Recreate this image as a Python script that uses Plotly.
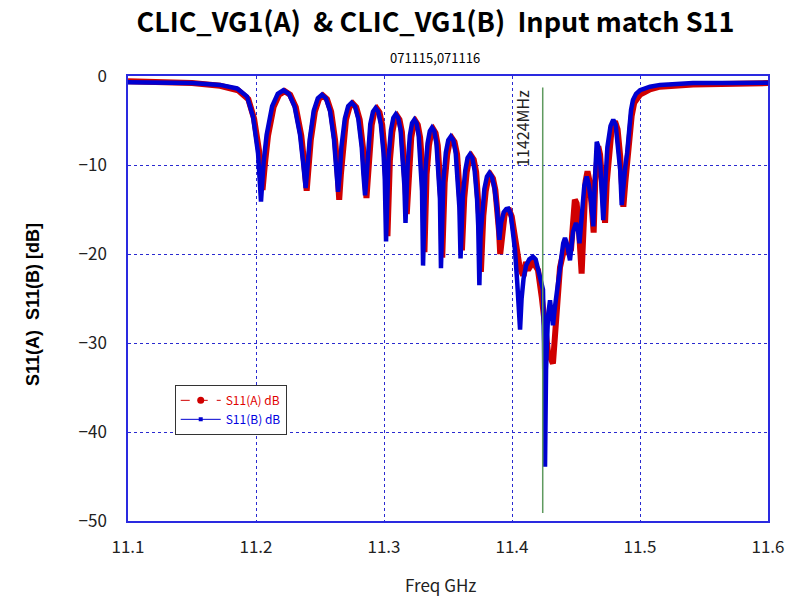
import plotly.graph_objects as go

# ---- data ----
freq_b = [
    11.1000, 11.1250, 11.1500, 11.1719, 11.1852, 11.1930, 11.1977, 11.2016, 11.2039,
    11.2060, 11.2083, 11.2126, 11.2170, 11.2214, 11.2257, 11.2301, 11.2344, 11.2367, 11.2388,
    11.2403, 11.2420, 11.2451, 11.2483, 11.2515, 11.2546, 11.2578, 11.2609, 11.2625, 11.2641,
    11.2654, 11.2667, 11.2694, 11.2720, 11.2747, 11.2773, 11.2799, 11.2826, 11.2839, 11.2852,
    11.2862, 11.2873, 11.2893, 11.2914, 11.2934, 11.2955, 11.2975, 11.2996, 11.3006, 11.3016,
    11.3025, 11.3035, 11.3054, 11.3073, 11.3092, 11.3111, 11.3130, 11.3149, 11.3159, 11.3168,
    11.3176, 11.3185, 11.3202, 11.3219, 11.3237, 11.3254, 11.3271, 11.3288, 11.3297, 11.3305,
    11.3313, 11.3323, 11.3340, 11.3358, 11.3375, 11.3393, 11.3410, 11.3428, 11.3437, 11.3445,
    11.3454, 11.3464, 11.3483, 11.3502, 11.3522, 11.3541, 11.3560, 11.3579, 11.3589, 11.3598,
    11.3607, 11.3616, 11.3635, 11.3653, 11.3672, 11.3690, 11.3708, 11.3727, 11.3736, 11.3745,
    11.3754, 11.3765, 11.3784, 11.3804, 11.3823, 11.3843, 11.3862, 11.3882, 11.3891, 11.3901,
    11.3915, 11.3935, 11.3955, 11.3971, 11.3990, 11.4005, 11.4023, 11.4040, 11.4055, 11.4063,
    11.4075, 11.4090, 11.4110, 11.4135, 11.4164, 11.4185, 11.4205, 11.4225, 11.4242, 11.4250,
    11.4258, 11.4266, 11.4281, 11.4297, 11.4310, 11.4320, 11.4335, 11.4352, 11.4383, 11.4400,
    11.4414, 11.4428, 11.4453, 11.4477, 11.4500, 11.4515, 11.4527, 11.4545, 11.4565, 11.4584,
    11.4600, 11.4620, 11.4635, 11.4645, 11.4655, 11.4662, 11.4672, 11.4690, 11.4713, 11.4725,
    11.4745, 11.4770, 11.4791, 11.4810, 11.4830, 11.4845, 11.4857, 11.4870, 11.4885, 11.4900,
    11.4915, 11.4930, 11.4945, 11.4969, 11.5000, 11.5078, 11.5156, 11.5414, 11.5703, 11.6000]
s11_b = [
    -0.7, -0.75, -0.8, -1.0, -1.4, -2.3, -4.6, -8.7, -14.1,
    -9.6, -6.6, -3.4, -2.0, -1.6, -2.0, -3.4, -6.6, -9.6, -12.6,
    -10.1, -7.1, -3.9, -2.5, -2.1, -2.5, -3.9, -7.1, -10.1, -13.0,
    -11.0, -8.0, -4.8, -3.4, -3.0, -3.4, -4.8, -8.0, -11.0, -13.4,
    -11.6, -8.6, -5.4, -4.0, -3.6, -4.0, -5.4, -8.6, -11.6, -18.6,
    -12.3, -9.3, -6.1, -4.7, -4.3, -4.7, -6.1, -9.3, -12.3, -16.5,
    -12.9, -9.9, -6.7, -5.3, -4.9, -5.3, -6.7, -9.9, -12.9, -21.3,
    -13.8, -10.8, -7.6, -6.2, -5.8, -6.2, -7.6, -10.8, -13.8, -21.6,
    -14.8, -11.8, -8.6, -7.2, -6.8, -7.2, -8.6, -11.8, -14.8, -20.5,
    -16.0, -13.5, -10.6, -9.2, -8.8, -9.2, -10.6, -13.8, -16.8, -23.5,
    -18.0, -15.5, -12.7, -11.3, -10.9, -11.3, -12.5, -14.8, -16.5, -18.4,
    -16.5, -15.3, -14.95, -14.9, -15.5, -17.0, -19.5, -23.0, -26.5, -28.5,
    -25.0, -22.8, -21.3, -20.6, -20.3, -20.6, -21.8, -23.2, -24.0, -30.0,
    -43.9, -33.0, -27.0, -25.2, -26.5, -28.0, -26.0, -24.0, -20.8, -18.8,
    -18.2, -18.8, -20.7, -17.5, -16.5, -17.2, -18.8, -15.0, -12.3, -11.3,
    -12.2, -14.3, -16.9, -12.5, -8.8, -7.4, -7.8, -10.0, -16.2, -12.0,
    -8.0, -5.6, -4.9, -5.5, -7.8, -10.5, -14.5, -12.2, -10.2, -8.6,
    -6.0, -3.8, -2.7, -2.0, -1.6, -1.2, -1.0, -0.8, -0.8, -0.75]

freq_a = [
    11.1000, 11.1250, 11.1500, 11.1719, 11.1860, 11.1940, 11.1985, 11.2025, 11.2051,
    11.2071, 11.2094, 11.2137, 11.2180, 11.2224, 11.2267, 11.2311, 11.2354, 11.2376, 11.2396,
    11.2411, 11.2428, 11.2460, 11.2492, 11.2523, 11.2555, 11.2587, 11.2618, 11.2635, 11.2650,
    11.2663, 11.2677, 11.2703, 11.2730, 11.2757, 11.2783, 11.2810, 11.2836, 11.2850, 11.2863,
    11.2873, 11.2883, 11.2904, 11.2924, 11.2945, 11.2965, 11.2986, 11.3006, 11.3017, 11.3027,
    11.3036, 11.3046, 11.3065, 11.3084, 11.3103, 11.3121, 11.3140, 11.3159, 11.3169, 11.3178,
    11.3186, 11.3195, 11.3213, 11.3230, 11.3247, 11.3264, 11.3282, 11.3299, 11.3308, 11.3316,
    11.3324, 11.3333, 11.3351, 11.3368, 11.3386, 11.3403, 11.3420, 11.3438, 11.3447, 11.3455,
    11.3464, 11.3474, 11.3494, 11.3513, 11.3532, 11.3551, 11.3571, 11.3590, 11.3600, 11.3609,
    11.3618, 11.3627, 11.3646, 11.3664, 11.3683, 11.3701, 11.3720, 11.3738, 11.3748, 11.3757,
    11.3766, 11.3776, 11.3795, 11.3814, 11.3833, 11.3851, 11.3870, 11.3889, 11.3899, 11.3908,
    11.3922, 11.3942, 11.3962, 11.3979, 11.3998, 11.4015, 11.4035, 11.4060, 11.4080, 11.4094,
    11.4109, 11.4125, 11.4164, 11.4203, 11.4232, 11.4258, 11.4281, 11.4320, 11.4350, 11.4375,
    11.4414, 11.4438, 11.4461, 11.4491, 11.4505, 11.4520, 11.4544, 11.4560, 11.4575, 11.4590,
    11.4605, 11.4622, 11.4638, 11.4650, 11.4662, 11.4674, 11.4688, 11.4705, 11.4727, 11.4740,
    11.4760, 11.4780, 11.4805, 11.4825, 11.4845, 11.4870, 11.4885, 11.4900, 11.4915, 11.4935,
    11.4955, 11.4980, 11.5000, 11.5078, 11.5156, 11.5414, 11.5703, 11.6000]
s11_a = [
    -0.6, -0.7, -0.8, -1.1, -1.6, -2.6, -4.8, -8.5, -12.8,
    -9.7, -6.7, -3.5, -2.1, -1.7, -2.1, -3.5, -6.7, -9.7, -12.9,
    -10.2, -7.2, -4.0, -2.6, -2.2, -2.6, -4.0, -7.2, -10.2, -13.9,
    -11.1, -8.1, -4.9, -3.5, -3.1, -3.5, -4.9, -8.1, -11.1, -13.7,
    -11.7, -8.7, -5.5, -4.1, -3.7, -4.1, -5.5, -8.7, -11.7, -18.0,
    -12.5, -9.5, -6.3, -4.9, -4.5, -4.9, -6.3, -9.5, -12.5, -15.5,
    -13.1, -10.1, -6.9, -5.5, -5.1, -5.5, -6.9, -10.1, -13.1, -19.8,
    -14.0, -11.0, -7.8, -6.4, -6.0, -6.4, -7.8, -11.0, -14.0, -20.4,
    -15.0, -12.0, -8.8, -7.4, -7.0, -7.4, -8.8, -12.0, -15.0, -19.6,
    -16.2, -13.7, -10.8, -9.4, -9.0, -9.4, -10.8, -13.8, -16.8, -22.0,
    -18.0, -15.7, -12.9, -11.5, -11.1, -11.5, -12.8, -15.2, -17.5, -20.0,
    -17.5, -15.6, -15.15, -15.1, -15.8, -17.5, -19.8, -21.5, -22.2, -22.2,
    -20.9, -21.8, -20.9, -21.8, -24.8, -28.0, -31.0, -32.3, -27.0, -21.5,
    -19.0, -20.0, -19.5, -13.9, -14.3, -16.5, -22.2, -15.5, -11.8, -10.7,
    -11.8, -14.5, -17.6, -12.0, -8.8, -7.9, -8.8, -11.5, -16.5, -12.0,
    -7.8, -5.7, -5.1, -6.0, -9.0, -14.7, -12.0, -9.5, -7.5, -4.5,
    -3.0, -2.4, -2.1, -1.5, -1.2, -0.95, -0.9, -0.8]

marker_freq = 11.424
marker_label = "11424MHz"
x_ticks = [11.1, 11.2, 11.3, 11.4, 11.5, 11.6]
y_ticks = [0, -10, -20, -30, -40, -50]

RED = "#d00000"
BLUE = "#0000d0"
FONT = "Liberation Sans Narrow, Noto Sans CJK JP, Liberation Sans, sans-serif"

PLOT_L, PLOT_R, PLOT_T, PLOT_B = 128, 768, 76, 521
PW, PH = PLOT_R - PLOT_L, PLOT_B - PLOT_T

fig = go.Figure()

# main curves
fig.add_trace(go.Scatter(x=freq_a, y=s11_a, mode="lines",
                         line=dict(color=RED, width=6), showlegend=False, hoverinfo="skip"))
fig.add_trace(go.Scatter(x=freq_b, y=s11_b, mode="lines",
                         line=dict(color=BLUE, width=4.5), showlegend=False, hoverinfo="skip"))

# legend entries
fig.add_trace(go.Scatter(x=[None], y=[None], mode="lines+markers",
                         name='<span style="color:#e00000">S11(A) dB</span>',
                         line=dict(color=RED, width=1, dash="dash"),
                         marker=dict(color=RED, size=7, symbol="circle")))
fig.add_trace(go.Scatter(x=[None], y=[None], mode="lines+markers",
                         name='<span style="color:#0000e0">S11(B) dB</span>',
                         line=dict(color=BLUE, width=1),
                         marker=dict(color=BLUE, size=4, symbol="square")))

# marker line at 11424 MHz
fig.add_shape(type="line", x0=marker_freq, x1=marker_freq, y0=-1.3, y1=-49.1,
              xref="x", yref="y", line=dict(color="#5f9a5f", width=1.5))
fig.add_annotation(x=marker_freq, y=-1.3, xref="x", yref="y", text=marker_label,
                   textangle=-90, showarrow=False, xanchor="right", yanchor="top",
                   xshift=-7, font=dict(family=FONT, size=16, color="#222222"))

# subtitle
fig.add_annotation(x=(435 - PLOT_L) / PW, y=1 + (PLOT_T - 46) / PH, xref="paper", yref="paper",
                   text="071115,071116", showarrow=False,
                   font=dict(family=FONT, size=13, color="#000000"))

# axis titles
fig.add_annotation(x=(440 - PLOT_L) / PW, y=-(584 - PLOT_B) / PH, xref="paper", yref="paper",
                   text="Freq GHz", showarrow=False, yanchor="middle",
                   font=dict(family=FONT, size=17, color="#222222"))
fig.add_annotation(x=(33 - PLOT_L) / PW, y=(PLOT_B - 305) / PH, xref="paper", yref="paper",
                   text="S11(A)\u00a0\u00a0S11(B)\u00a0[dB]", showarrow=False, textangle=-90,
                   xanchor="center", yanchor="middle",
                   font=dict(family="Liberation Sans, Arial, sans-serif", size=18,
                             color="#000000", weight="bold"))

axis_common = dict(showline=True, linecolor="#2a2ae0", linewidth=1.5, mirror=True,
                   showgrid=True, gridcolor="#2a2ad0", gridwidth=1, griddash="dot",
                   zeroline=False, ticks="", automargin=False,
                   tickfont=dict(family=FONT, size=17, color="#222222"))

fig.update_layout(
    width=796, height=598,
    margin=dict(l=PLOT_L, r=796 - PLOT_R, t=PLOT_T, b=598 - PLOT_B),
    paper_bgcolor="white", plot_bgcolor="white",
    title=dict(text="CLIC_VG1(A)\u00a0\u00a0&\u00a0CLIC_VG1(B)\u00a0\u00a0Input\u00a0match\u00a0S11",
               x=0.547, xanchor="center", y=0.962, yanchor="middle",
               font=dict(family=FONT, size=27, color="#000000", weight="bold")),
    xaxis=dict(range=[11.1, 11.6], tickvals=x_ticks, ticktext=[f"{v:.1f}" for v in x_ticks],
               ticklabelstandoff=10, **axis_common),
    yaxis=dict(range=[-50, 0], tickvals=y_ticks,
               ticktext=[str(v).replace("-", "\u2212") for v in y_ticks],
               ticklabelstandoff=16, **axis_common),
    legend=dict(x=0.073, y=0.306, xanchor="left", yanchor="top",
                bgcolor="white", bordercolor="#333333", borderwidth=1,
                font=dict(family=FONT, size=12), tracegroupgap=0, itemwidth=40),
)

fig.write_html("out.html")
